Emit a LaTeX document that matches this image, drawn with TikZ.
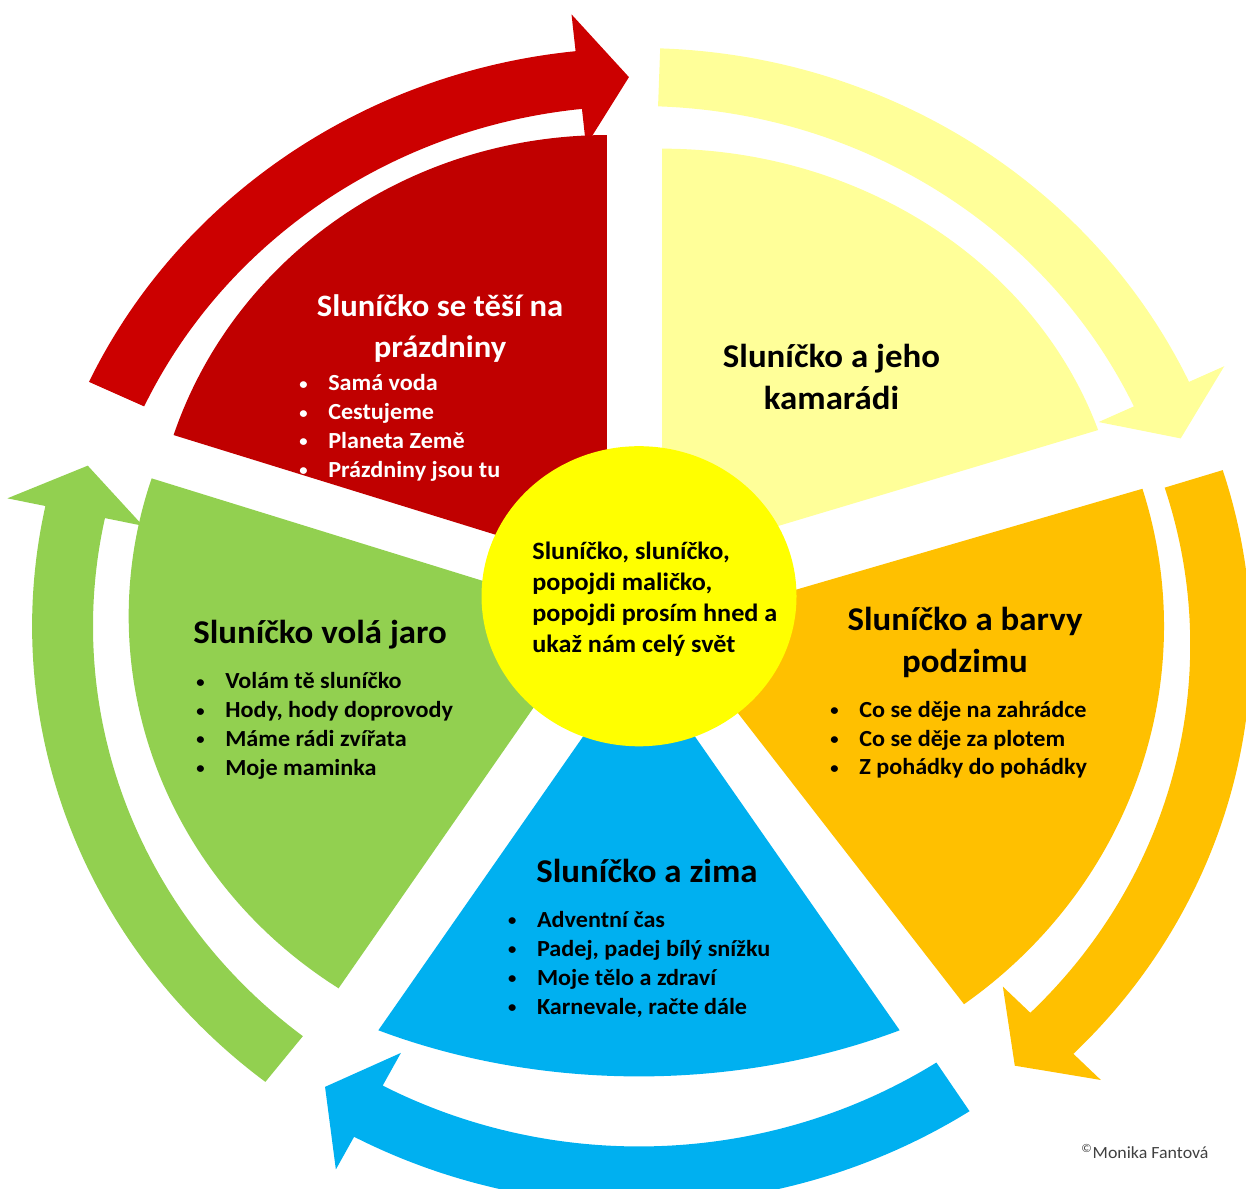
\documentclass[tikz,border=0pt]{standalone}
\usepackage{fontspec}
\setmainfont{Carlito}
\usepackage{tikz}

\definecolor{sunred}{HTML}{C00000}
\definecolor{arrowred}{HTML}{CC0000}
\definecolor{paleyellow}{HTML}{FFFF99}
\definecolor{amber}{HTML}{FFC000}
\definecolor{skyblue}{HTML}{00B0F0}
\definecolor{leafgreen}{HTML}{92D050}
\definecolor{sunyellow}{HTML}{FFFF00}
\newcommand{\bul}{\makebox[0.55cm][l]{\raisebox{0.15ex}{\fontsize{9}{9}\selectfont\textbullet}}}

\begin{document}
\begin{tikzpicture}[x=0.021cm, y=0.02cm,
    heading/.style={font=\fontsize{18.9}{24}\selectfont\bfseries, align=center, inner sep=0pt, xscale=1.05},
    points/.style={font=\fontsize{13.1}{16.4}\selectfont\bfseries, align=left, inner sep=0pt, xscale=1.05, anchor=west}]
            \useasboundingbox (-608.6,-592) rectangle (578.1,596);

            \begin{scope}[shift={(0,-30)}]
            \fill[arrowred] (155:520) arc[start angle=155, end angle=96, radius=520] -- (96:483) -- (91:549) -- (96:615) -- (96:578) arc[start angle=96, end angle=155, radius=578] -- cycle;
            \fill[paleyellow] (88:520) arc[start angle=88, end angle=25, radius=520] -- (25:483) -- (20:549) -- (25:615) -- (25:578) arc[start angle=25, end angle=88, radius=578] -- cycle;
            \fill[skyblue] (-57:520) arc[start angle=-57, end angle=-118, radius=520] -- (-118:483) -- (-123:549) -- (-118:615) -- (-118:578) arc[start angle=-118, end angle=-57, radius=578] -- cycle;
            \fill[leafgreen] (232:520) arc[start angle=232, end angle=168, radius=520] -- (168:483) -- (163:549) -- (168:615) -- (168:578) arc[start angle=168, end angle=232, radius=578] -- cycle;
            \end{scope}
            \begin{scope}[shift={(5,-48.7)}]
            \fill[amber] (17.6:520) arc[start angle=17.6, end angle=-45, radius=520] -- (-45:483) -- (-50:549) -- (-45:615) -- (-45:578) arc[start angle=-45, end angle=17.6, radius=578] -- cycle;
            \end{scope}

            \fill[sunred] (-30.5,27) -- ++(90:434) arc[start angle=90, end angle=162, radius=434] -- cycle;
            \fill[paleyellow] (21.9,35.4) -- ++(18.5:438 and 412) arc[start angle=18.5, end angle=90, x radius=438, y radius=412] -- cycle;
            \fill[amber] (30,-30) -- ++(-53.5:470) arc[start angle=-53.5, end angle=17, radius=470] -- cycle;
            \fill[skyblue] (0,-60) -- ++(242.9:545 and 420) arc[start angle=242.9, end angle=297.1, x radius=545, y radius=420] -- cycle;
            \fill[leafgreen] (-40,-20) -- ++(162:446) arc[start angle=162, end angle=236.5, radius=446] -- cycle;

            \fill[sunyellow] (0,0) circle[radius=150];

            \node[heading, text=white, font=\fontsize{17.7}{23}\selectfont\bfseries] (T1) at (-189.5,267.5) {Sluníčko se těší na\\prázdniny};
            \node[points, text=white] (L1) at (-323.8,168.2) {\bul Samá voda\\\bul Cestujeme\\\bul Planeta Země\\\bul Prázdniny jsou tu};
            \node[heading] (T2) at (183.3,219.5) {Sluníčko a jeho\\kamarádi};
            \node[heading] (T3) at (310.5,-46) {Sluníčko a barvy\\podzimu};
            \node[points] (L3) at (181.9,-143.5) {\bul Co se děje na zahrádce\\\bul Co se děje za plotem\\\bul Z pohádky do pohádky};
            \node[heading, anchor=base] (T4) at (7.6,-285.7) {Sluníčko a zima};
            \node[points] (L4) at (-125,-368) {\bul Adventní čas\\\bul Padej, padej bílý snížku\\\bul Moje tělo a zdraví\\\bul Karnevale, račte dále};
            \node[heading, anchor=base] (T5) at (-303.8,-47) {Sluníčko volá jaro};
            \node[points] (L5) at (-421.9,-129.8) {\bul Volám tě sluníčko\\\bul Hody, hody doprovody\\\bul Máme rádi zvířata\\\bul Moje maminka};
            \node[font=\fontsize{14.2}{17.6}\selectfont\bfseries, align=left, inner sep=0pt, xscale=1.05, anchor=west] (C) at (-101.9,-2.9) {Sluníčko, sluníčko,\\popojdi maličko,\\popojdi prosím hned a\\ukaž nám celý svět};
            \node[font=\fontsize{9.7}{11}\selectfont, text=black!75, inner sep=0pt, xscale=1.05, anchor=base west] (M) at (420.9,-562) {\textsuperscript{©}Monika Fantová};

        \end{tikzpicture}
\end{document}
